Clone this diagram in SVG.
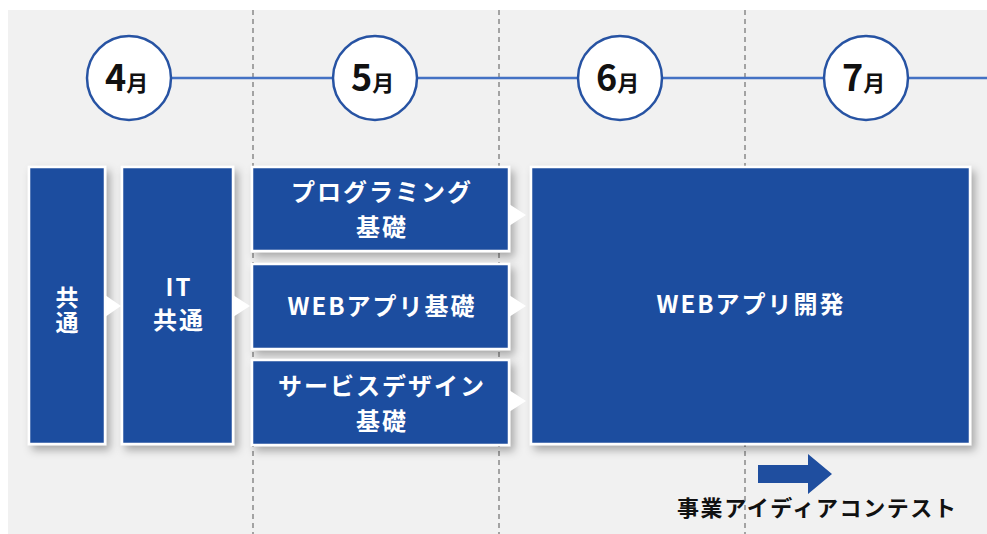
<svg xmlns="http://www.w3.org/2000/svg" width="987" height="534" viewBox="0 0 987 534">
<style>
.bg{fill:#f1f1f1}
.dash{stroke:#707070;stroke-width:1.2;stroke-dasharray:5 4;fill:none}
.tl{stroke:#4472c4;stroke-width:2.5;fill:none}
.mc{fill:#ffffff;stroke:#2753a3;stroke-width:2.5}
.mn{font-family:"Noto Sans CJK JP","Noto Sans",sans-serif;font-weight:bold;fill:#111111}
.box{fill:#1f4e9f;stroke:#ffffff;stroke-width:2.5;filter:url(#sh)}
.bt{font-family:"Noto Sans CJK JP","Noto Sans",sans-serif;font-weight:bold;fill:#ffffff;font-size:24px;text-anchor:middle;letter-spacing:2px}
.bv{font-family:"Noto Sans CJK JP","Noto Sans",sans-serif;font-weight:bold;fill:#ffffff;font-size:23px;text-anchor:middle;writing-mode:vertical-rl;letter-spacing:2px}
.tri{fill:#ffffff}
.arr{fill:#1f4e9f}
.lbl{font-family:"Noto Sans CJK JP","Noto Sans",sans-serif;font-weight:bold;fill:#111111;font-size:22px;letter-spacing:1.6px}
</style>
<defs>
<filter id="sh" x="-20%" y="-20%" width="150%" height="150%">
<feDropShadow dx="4" dy="5" stdDeviation="4" flood-color="#000000" flood-opacity="0.3"/>
</filter>
</defs>
<rect x="0" y="0" width="987" height="534" fill="#ffffff"/>
<rect class="bg" x="8" y="10" width="979" height="524"/>
<g id="grid">
<line class="dash" x1="253" y1="10" x2="253" y2="534"/>
<line class="dash" x1="499" y1="10" x2="499" y2="534"/>
<line class="dash" x1="745" y1="10" x2="745" y2="534"/>
</g>
<g id="timeline">
<line class="tl" x1="129" y1="78" x2="987" y2="78"/>
</g>
<g id="m4"><circle class="mc" cx="129" cy="78" r="42"/><text class="mn" x="105" y="91"><tspan font-size="36">4</tspan><tspan font-size="22">月</tspan></text></g>
<g id="m5"><circle class="mc" cx="375" cy="78" r="42"/><text class="mn" x="351" y="91"><tspan font-size="36">5</tspan><tspan font-size="22">月</tspan></text></g>
<g id="m6"><circle class="mc" cx="620" cy="78" r="42"/><text class="mn" x="596" y="91"><tspan font-size="36">6</tspan><tspan font-size="22">月</tspan></text></g>
<g id="m7"><circle class="mc" cx="866" cy="78" r="42"/><text class="mn" x="842" y="91"><tspan font-size="36">7</tspan><tspan font-size="22">月</tspan></text></g>
<g id="common">
<rect class="box" x="29" y="167" width="76" height="277"/>
<text class="bv" x="67" y="311">共通</text>
</g>
<g id="it">
<rect class="box" x="122" y="167" width="111" height="277"/>
<text class="bt" x="179" y="296">IT</text>
<text class="bt" x="179" y="329">共通</text>
</g>
<g id="prog">
<rect class="box" x="252" y="167" width="257" height="84"/>
<text class="bt" x="382" y="201">プログラミング</text>
<text class="bt" x="382" y="236">基礎</text>
</g>
<g id="webbasic">
<rect class="box" x="252" y="264" width="257" height="85"/>
<text class="bt" x="382" y="315">WEBアプリ基礎</text>
</g>
<g id="service">
<rect class="box" x="252" y="360" width="257" height="85"/>
<text class="bt" x="382" y="395">サービスデザイン</text>
<text class="bt" x="382" y="430">基礎</text>
</g>
<g id="webdev">
<rect class="box" x="531" y="167" width="439" height="277"/>
<text class="bt" x="751" y="313">WEBアプリ開発</text>
</g>
<g id="connectors">
<polygon class="tri" points="105,295 121,306 105,317"/>
<polygon class="tri" points="233,295 250,306 233,317"/>
<polygon class="tri" points="509,204 526,215 509,226"/>
<polygon class="tri" points="509,295 526,306 509,317"/>
<polygon class="tri" points="509,390 526,401 509,412"/>
</g>
<g id="contest">
<polygon class="arr" points="758,465 808,465 808,454 832,474 808,494 808,483 758,483"/>
<text class="lbl" x="677" y="516">事業アイディアコンテスト</text>
</g>
</svg>
